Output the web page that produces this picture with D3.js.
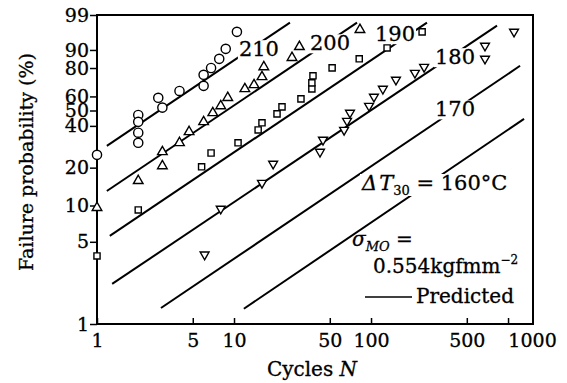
<!DOCTYPE html>
<html>
<head>
<meta charset="utf-8">
<script src="https://cdn.jsdelivr.net/npm/d3@7"></script>
<style>
  body { margin: 0; background: #fff; }
  text { font-family: "DejaVu Serif", serif; fill: #000; stroke: #000; stroke-width: 0.3px; }
</style>
</head>
<body>
<div id="chart"></div>
<script>
// ---- data ----
// circles, dT30 = 210
const circN = [1, 2, 2, 2, 2, 2.8, 3, 4, 6, 6, 6.8, 7.8, 8.7, 10.5];
const circF = [25, 47, 42.5, 36, 30.6, 59, 52, 64, 75.5, 67.7, 80, 85.5, 90.5, 96.3];
// up triangles, 200
const triN = [1, 2, 3, 3, 4, 4.7, 6, 7, 8, 9, 12, 14, 16, 16.5, 26.5, 30, 83];
const triF = [9.6, 15.8, 26.3, 20.6, 30.6, 36.5, 42.5, 48.4, 53.2, 59.1, 65.5, 68.4, 74.1, 80.7, 86.1, 91.4, 96.8];
// squares, 190
const sqN = [1, 2, 5.8, 6.8, 10.7, 15, 16, 20.6, 22.4, 30.8, 37, 37, 37.7, 52, 82, 131, 236];
const sqF = [3.8, 9.2, 20.3, 25.8, 30.6, 37.6, 41.9, 47.7, 52.5, 58.2, 65.5, 69.9, 74.8, 80.1, 85.5, 90.9, 96.3];
// down triangles, 180
const dtriN = [6.1, 8, 16, 19.3, 42.4, 44.6, 63.6, 66.8, 70.2, 96.7, 105, 122, 152, 209, 244, 679, 679, 1106];
const dtriF = [3.9, 9.4, 15.2, 21.4, 26.3, 32.1, 37.6, 43.1, 48.4, 53.2, 59.7, 65.5, 72, 76.8, 80.7, 85.5, 91.8, 96.3];

// predicted lines (start / end points)
const lineNames = ["210", "200", "190", "180", "170", "160"];
const lineStartN = [1.18, 1.18, 1.24, 1.29, 2.93, 11.8];
const lineStartF = [29.1, 13.1, 5.6, 2.2, 1.37, 1.35];
const lineEndN = [25.6, 79, 256, 831, 1224, 1309];
const lineEndF = [98.1, 98.1, 98.1, 97.6, 81.4, 44.4];
// where the number sits on each line
const labelN = [15.2, 50.2, 149.6, 410, 410];
const labelF = [90.5, 92.9, 95.8, 86.6, 51];

const xTicks = [1, 5, 10, 50, 100, 500, 1000];
const yTicks = [1, 5, 10, 20, 40, 50, 60, 80, 90, 99];

// ---- chart ----
const width = 567, height = 383;
const pLeft = 97, pRight = 533, pTop = 15, pBottom = 324;

const svg = d3.select("#chart").append("svg")
  .attr("width", width)
  .attr("height", height);

// weibull probability paper
function wb(p) { return Math.log(-Math.log(1 - p / 100)); }

const x = d3.scaleLog().domain([1, 1521]).range([pLeft, pRight]);
const y = d3.scaleLinear().domain([wb(1), wb(99)]).range([pBottom, pTop]);
const fy = p => y(wb(p));

// x axis
const xAxis = svg.append("g")
  .attr("transform", "translate(0," + pBottom + ")")
  .call(d3.axisBottom(x)
    .tickValues(xTicks)
    .tickFormat(d3.format("d"))
    .tickSizeInner(-6)
    .tickSizeOuter(0)
    .tickPadding(9.5));
xAxis.select(".domain").remove();
xAxis.selectAll("line").attr("stroke-width", 1.5);
xAxis.selectAll("text").attr("font-size", 19).attr("font-family", null);
// the 1000 label sits off its tick in the original
xAxis.selectAll(".tick").filter(d => d == 1000).select("text").attr("x", 24);

// y axis
const yAxis = svg.append("g")
  .attr("transform", "translate(" + pLeft + ",0)")
  .call(d3.axisLeft(y)
    .tickValues(yTicks.map(wb))
    .tickFormat((d, i) => yTicks[i])
    .tickSizeInner(7)
    .tickSizeOuter(0)
    .tickPadding(1));
yAxis.select(".domain").remove();
yAxis.selectAll("line").attr("stroke-width", 1.5);
yAxis.selectAll("text").attr("font-size", 19).attr("font-family", null);

// frame
svg.append("rect")
  .attr("x", pLeft).attr("y", pTop)
  .attr("width", pRight - pLeft).attr("height", pBottom - pTop)
  .attr("fill", "none").attr("stroke", "#000").attr("stroke-width", 2);

// axis titles
svg.append("text")
  .attr("transform", "translate(33,162) rotate(-90)")
  .attr("text-anchor", "middle")
  .attr("font-size", 19)
  .text("Failure probability (%)");

const xt = svg.append("text")
  .attr("x", 312).attr("y", 376)
  .attr("text-anchor", "middle")
  .attr("font-size", 20);
xt.append("tspan").text("Cycles ");
xt.append("tspan").attr("font-style", "italic").text("N");

// predicted lines
const lines = svg.append("g");
lineNames.forEach(function(name, i) {
  lines.append("line")
    .attr("x1", x(lineStartN[i])).attr("y1", fy(lineStartF[i]))
    .attr("x2", x(lineEndN[i])).attr("y2", fy(lineEndF[i]))
    .attr("stroke", "#000").attr("stroke-width", 2);
});

// labels, with a white patch behind so the line breaks
const labels = svg.append("g");
function patch(t) {
  let b = t.node().getBBox();
  labels.insert("rect", function() { return t.node(); })
    .attr("x", b.x - 1).attr("y", b.y + 3)
    .attr("width", b.width + 2).attr("height", b.height - 5)
    .attr("fill", "#fff");
}
labelN.forEach(function(n, i) {
  let t = labels.append("text")
    .attr("x", x(n)).attr("y", fy(labelF[i]))
    .attr("dy", "0.35em")
    .attr("text-anchor", "middle")
    .attr("font-size", 21)
    .text(lineNames[i]);
  patch(t);
});

// dT30 = 160 C
const dt = labels.append("text")
  .attr("x", 362).attr("y", 190)
  .attr("font-size", 21);
dt.append("tspan").attr("font-style", "italic").text("Δ");
dt.append("tspan").attr("font-style", "italic").attr("dx", 2).text("T");
dt.append("tspan").attr("font-size", 13).attr("dy", 5).text("30");
dt.append("tspan").attr("dy", -5).text(" = 160°C");
patch(dt);

// sigma note
const sg = svg.append("text")
  .attr("x", 352).attr("y", 246)
  .attr("font-size", 20);
sg.append("tspan").attr("font-style", "italic").text("σ");
sg.append("tspan").attr("font-style", "italic").attr("font-size", 13).attr("dy", 5).text("MO");
sg.append("tspan").attr("dy", -5).text(" =");

const sv = svg.append("text")
  .attr("x", 373).attr("y", 273)
  .attr("font-size", 20);
sv.append("tspan").text("0.554kgfmm");
sv.append("tspan").attr("font-size", 12).attr("dy", -9).text("−2");

// legend
svg.append("line")
  .attr("x1", 365).attr("x2", 412)
  .attr("y1", 297).attr("y2", 297)
  .attr("stroke", "#000").attr("stroke-width", 1.3);
svg.append("text")
  .attr("x", 416).attr("y", 303)
  .attr("font-size", 20)
  .text("Predicted");

// markers
const marks = svg.append("g")
  .attr("fill", "#fff")
  .attr("stroke", "#000")
  .attr("stroke-width", 1.4);

marks.selectAll(".circ")
  .data(circN)
  .enter()
  .append("circle")
  .attr("cx", d => x(d))
  .attr("cy", (d, i) => fy(circF[i]))
  .attr("r", 4.6);

const triUp = d3.symbol().type(d3.symbolTriangle).size(40);
marks.selectAll(".tri")
  .data(triN)
  .enter()
  .append("path")
  .attr("d", triUp)
  .attr("transform", (d, i) => "translate(" + x(d) + "," + fy(triF[i]) + ")");

const sq = d3.symbol().type(d3.symbolSquare).size(38);
marks.selectAll(".sq")
  .data(sqN)
  .enter()
  .append("path")
  .attr("d", sq)
  .attr("transform", (d, i) => "translate(" + x(d) + "," + fy(sqF[i]) + ")");

const triDown = d3.symbol().type(d3.symbolTriangle).size(34);
marks.selectAll(".dtri")
  .data(dtriN)
  .enter()
  .append("path")
  .attr("d", triDown)
  .attr("transform", (d, i) => "translate(" + x(d) + "," + fy(dtriF[i]) + ") rotate(180)");
</script>
</body>
</html>
